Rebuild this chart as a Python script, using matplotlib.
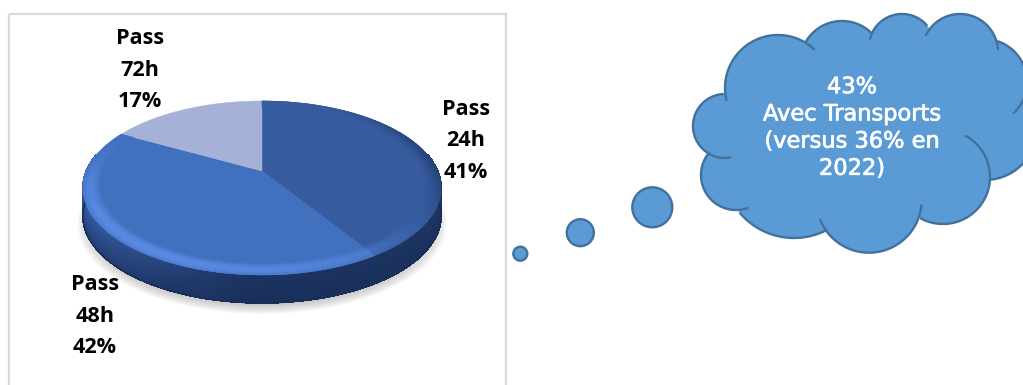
import numpy as np
import matplotlib
matplotlib.use('Agg')
import matplotlib.pyplot as plt
from matplotlib.collections import PolyCollection
from matplotlib.patches import Circle, Rectangle, Polygon
import matplotlib.patheffects as pe

# Pie values, clockwise from 12 o'clock
passes = ['24h', '48h', '72h']
shares = [41, 42, 17]
top_colors = ['#365b9f', '#4170bf', '#a5b1d6']
side_colors = ['#1d3563', '#3a62ad', '#a5b1d6']
label_pos = [(466, 141), (95, 316), (140, 70)]

cloud_text = '43%\nAvec Transports\n(versus 36% en\n2022)'

# Pie geometry in pixels
cx, cy = 262, 171
a, b, k = 175.6, 83.7, 0.195
depth = 28
light = np.array([-0.55, -0.83])

# Cloud lobes: centre x, centre y, radius, start angle, end angle (y axis points down)
lobes = [
    (725, 126, 32, 79, 268),
    (778, 88, 53, 166, 314),
    (842, 63, 42, 210, 315),
    (902, 47, 33, 193, 320),
    (960, 52, 38, 205, 357),
    (984, 82, 43, 288, 407),
    (985, 128, 52, 25, 85),
    (943, 177, 47, 298, 479),
    (869, 200, 52.7, 5, 159),
    (794, 167, 71, 62, 140),
    (736, 175, 35, 69, 221),
]
bubbles = [(652.3, 207.3, 20), (580.3, 232.7, 13.5), (520.3, 253.7, 7)]
cloud_fill = '#5b9bd5'
cloud_edge = '#41719c'


def project(u, v, dy=0.0):
    # perspective view of the unit disc
    w = 1 + k * v
    return cx + a * u / w, cy - b * v / w + dy


def mix(c1, c2, t):
    c1 = np.array(matplotlib.colors.to_rgb(c1))
    c2 = np.array(matplotlib.colors.to_rgb(c2))
    return c1 + (c2 - c1) * np.clip(t, 0, 1)


def disc_pts(th, r=1.0, dy=0.0):
    # th is measured clockwise from the top of the pie
    x, y = project(r * np.sin(th), r * np.cos(th), dy)
    return np.column_stack([x, y])


fig = plt.figure(figsize=(10.23, 3.85), dpi=100)
ax = fig.add_axes([0, 0, 1, 1])
ax.set_xlim(0, 1023)
ax.set_ylim(385, 0)
ax.axis('off')

# Chart frame, open at the bottom edge
ax.add_patch(Rectangle((9, 14), 497, 400, fill=False, ec='#d9d9d9', lw=1.6))

# Soft shadow under the pie
th_all = np.linspace(0, 2 * np.pi, 240)
for s in np.linspace(1.03, 0.96, 10):
    p = disc_pts(th_all, s, depth + 7)
    ax.add_patch(Polygon(p, closed=True, fc='#a0a0a0', ec='none', alpha=0.07, zorder=1))

edges = np.radians(np.concatenate([[0], np.cumsum(shares)]) * 3.6)

# Side wall: only the front half of the disc is visible
quads, cols = [], []
for i in range(len(shares)):
    ths = np.linspace(edges[i], edges[i + 1], max(3, int(shares[i] * 5)))
    for t0, t1 in zip(ths[:-1], ths[1:]):
        if np.cos(0.5 * (t0 + t1)) > 0.2:
            continue
        mid = 0.5 * (t0 + t1)
        # brightest toward the left end of the wall, darkest at the right
        f = -np.sin(mid)
        for j in range(10):
            z0, z1 = j / 10, (j + 1) / 10
            p0 = disc_pts(np.array([t0, t1]), 1.0, z0 * depth)
            p1 = disc_pts(np.array([t1, t0]), 1.0, z1 * depth)
            quads.append(np.vstack([p0, p1]))
            if i == 0:
                base = mix('#15284c', '#1e3663', 0.6 + 0.4 * np.sin(mid))
            else:
                base = mix('#1c3360', side_colors[i], max(f, 0) ** 1.3)
            cols.append(mix(base, '#182d57', z0 * 0.6))
ax.add_collection(PolyCollection(quads, facecolors=cols, edgecolors=cols, lw=0.6,
                                 antialiaseds=False, zorder=2))

# Smooth lower edge of the wall
th_low = np.linspace(np.pi / 2 - 0.1, 3 * np.pi / 2 + 0.1, 200)
low = disc_pts(th_low, 1.0, depth)
ax.plot(low[:, 0], low[:, 1], color='#182d57', lw=1.0, zorder=2)

# Flat top of each slice
for i in range(len(shares)):
    ths = np.linspace(edges[i], edges[i + 1], 120)
    p = np.vstack([[cx, cy], disc_pts(ths)])
    ax.add_patch(Polygon(p, closed=True, fc=top_colors[i], ec=top_colors[i], lw=0.3, zorder=3))

# Bevel along the rim, lit from the lower left and rolling over onto the side wall
quads, cols = [], []
rings = np.linspace(0.90, 1.0, 12)
for i in range(2):
    ths = np.linspace(edges[i], edges[i + 1], int(shares[i] * 5))
    for t0, t1 in zip(ths[:-1], ths[1:]):
        mid = 0.5 * (t0 + t1)
        f = np.dot([np.sin(mid), np.cos(mid)], light)
        front = np.clip(0.9 - np.cos(mid), 0, 1)
        for r0, r1 in zip(rings[:-1], rings[1:]):
            s = (r0 - rings[0]) / (rings[-1] - rings[0])
            p = np.vstack([disc_pts(np.array([t0, t1]), r0), disc_pts(np.array([t1, t0]), r1)])
            quads.append(p)
            if f > 0:
                # highlight peaks inside the rim, then falls off toward the edge
                c = mix(top_colors[i], '#5a8ae2', f * np.sin(np.pi * min(s * 0.9, 1)) * front * 1.15)
            else:
                c = mix(top_colors[i], '#1a2f58', -f * s ** 1.4 * front * 1.3)
            cols.append(c)
ax.add_collection(PolyCollection(quads, facecolors=cols, edgecolors=cols, lw=0.3, zorder=4))

# Slice labels
for name, val, pos in zip(passes, shares, label_pos):
    ax.text(pos[0], pos[1], f'Pass\n{name}\n{val}%', ha='center', va='center',
            fontsize=15.6, fontweight='bold', family='Open Sans', color='black',
            linespacing=1.66, zorder=6)

# Thought bubbles leading to the cloud
for x, y, r in bubbles:
    ax.add_patch(Circle((x, y), r, fc=cloud_fill, ec=cloud_edge, lw=1.7, zorder=5))

# Cloud: filled circles first, then the outline arcs on top
for x, y, r, _, _ in lobes:
    ax.add_patch(Circle((x, y), r, fc=cloud_fill, ec='none', zorder=5))
ax.add_patch(Polygon([(l[0], l[1]) for l in lobes], closed=True, fc=cloud_fill, ec=cloud_fill, zorder=5))
for x, y, r, t0, t1 in lobes:
    # the y axis is inverted, so arc angles run clockwise on screen
    ang = np.radians(np.linspace(t0, t1, 80))
    ax.plot(x + r * np.cos(ang), y + r * np.sin(ang), color=cloud_edge, lw=1.7,
            solid_capstyle='butt', zorder=6)

ax.text(852, 128, cloud_text, ha='center', va='center', color='white', fontsize=16.2,
        family='DejaVu Sans', linespacing=1.45, zorder=7,
        path_effects=[pe.withStroke(linewidth=0.5, foreground='white')])

fig.savefig('out.png', dpi=100)
